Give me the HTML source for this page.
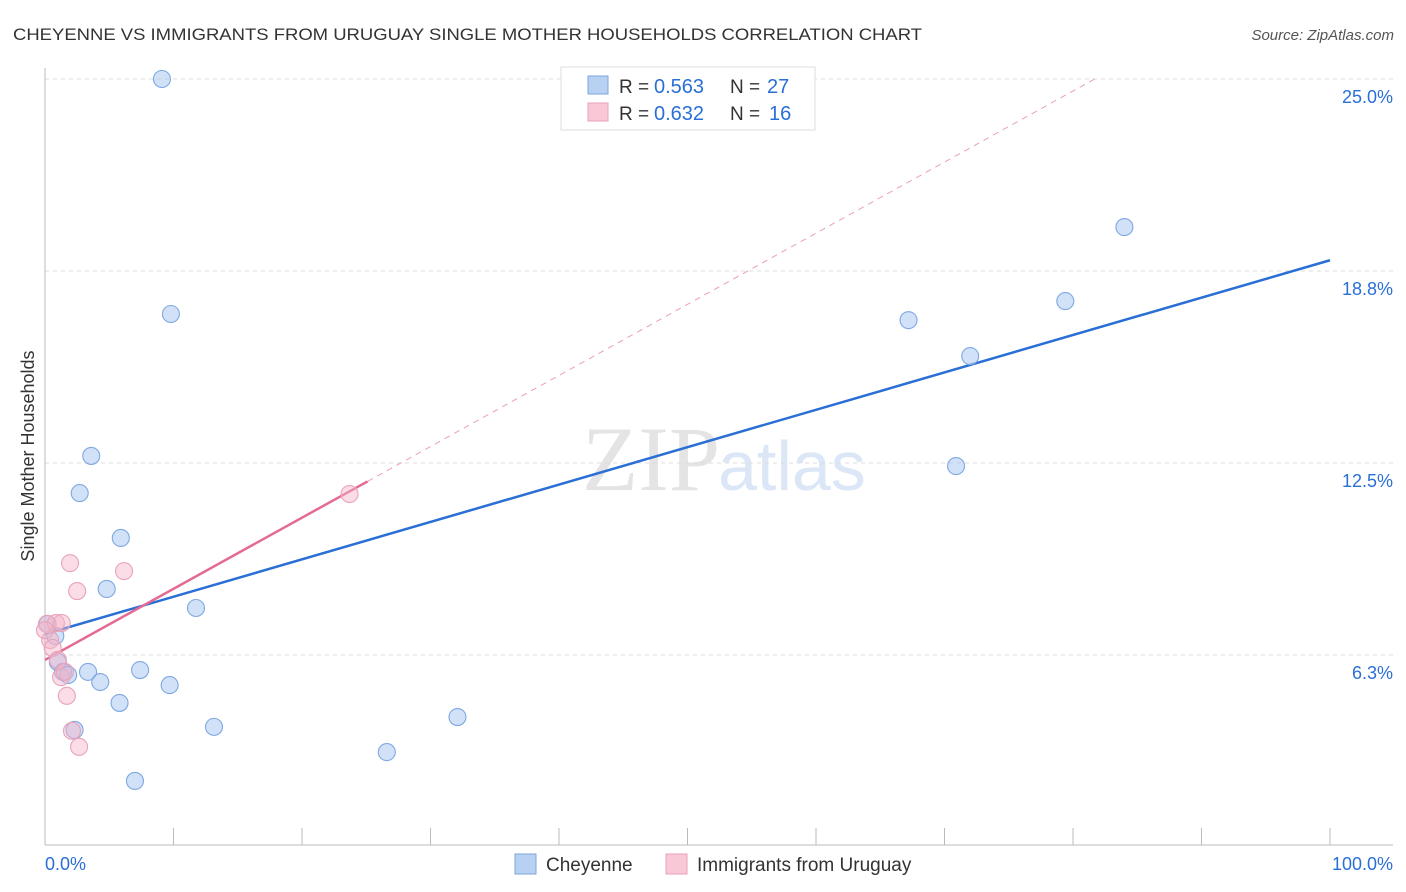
<!DOCTYPE html>
<html><head><meta charset="utf-8"><style>
body{margin:0;background:#fff;font-family:"Liberation Sans",sans-serif}
#c{position:relative;width:1406px;height:892px;overflow:hidden}
</style></head><body>
<div id="c">
<svg width="1406" height="892" xmlns="http://www.w3.org/2000/svg" id="svg">
<text x="13" y="40" font-size="17" fill="#333" textLength="909" lengthAdjust="spacingAndGlyphs">CHEYENNE VS IMMIGRANTS FROM URUGUAY SINGLE MOTHER HOUSEHOLDS CORRELATION CHART</text>
<text x="1394" y="40" font-size="15" fill="#555" font-style="italic" text-anchor="end">Source: ZipAtlas.com</text>
<text x="34" y="456" font-size="18" fill="#333" text-anchor="middle" transform="rotate(-90 34 456)">Single Mother Households</text>
<text x="720" y="490" font-size="92" fill="#e4e4e4" text-anchor="end" font-family="Liberation Serif">ZIP</text>
<text x="718" y="490" font-size="70" fill="#dbe6f6">atlas</text>
<g id="grid"></g><g id="axes"></g><g id="lines"></g><g id="pts"></g>
<g>
<rect x="561" y="67" width="254" height="63" fill="#fff" stroke="#ddd"/>
<rect x="588" y="76" width="20" height="18" fill="#b8d0f2" stroke="#7ea6e0"/>
<rect x="588" y="103" width="20" height="18" fill="#f9c8d6" stroke="#eaa0b8"/>
<text x="619" y="93" font-size="19" fill="#333">R =</text>
<text x="654" y="93" font-size="20" fill="#2a6fd6">0.563</text>
<text x="730" y="93" font-size="19" fill="#333">N =</text>
<text x="767" y="93" font-size="20" fill="#2a6fd6">27</text>
<text x="619" y="120" font-size="19" fill="#333">R =</text>
<text x="654" y="120" font-size="20" fill="#2a6fd6">0.632</text>
<text x="730" y="120" font-size="19" fill="#333">N =</text>
<text x="769" y="120" font-size="20" fill="#2a6fd6">16</text>
</g>
<g>
<rect x="515" y="854" width="21" height="20" fill="#b8d0f2" stroke="#7ea6e0"/>
<text x="546" y="871" font-size="19" fill="#333">Cheyenne</text>
<rect x="666" y="854" width="21" height="20" fill="#f9c8d6" stroke="#eaa0b8"/>
<text x="697" y="871" font-size="19" fill="#333">Immigrants from Uruguay</text>
</g>
</svg></div>
<script>
const yTicks=[6.25,12.5,18.75,25];
const yTickLabels=["6.3%","12.5%","18.8%","25.0%"];
const xLabels=["0.0%","100.0%"];
const blueX=[9.1,9.8,3.6,2.7,5.9,4.8,11.75,0.2,0.8,1.0,1.4,1.8,3.35,4.3,7.4,9.7,5.8,2.3,13.15,7.0,26.6,32.1,67.2,72.0,79.4,84.0,70.9];
const blueY=[25.0,17.35,12.73,11.52,10.06,8.40,7.78,7.26,6.87,6.02,5.70,5.60,5.70,5.37,5.76,5.27,4.69,3.81,3.91,2.15,3.09,4.23,17.15,15.98,17.77,20.18,12.40];
const pinkX=[23.7,1.95,6.15,2.5,0.15,0.85,1.3,0.4,0.6,1.0,1.25,1.7,2.1,2.65,0,1.55];
const pinkY=[11.49,9.24,8.98,8.33,7.26,7.29,7.29,6.74,6.48,6.09,5.53,4.92,3.78,3.26,7.06,5.70];
const blueLine=[6.93,19.1];
const pinkLine=[6.09,0.2315];
const NS="http://www.w3.org/2000/svg";
const X=v=>45+v*12.85, Y=v=>847-v*30.72;
function mk(p,t,a){const e=document.createElementNS(NS,t);for(const k in a)e.setAttribute(k,a[k]);document.getElementById(p).appendChild(e);return e;}
yTicks.forEach((t,i)=>{
 const g=mk('grid','line',{x1:45,x2:1393,y1:Y(t),y2:Y(t),stroke:'#ddd','stroke-dasharray':'4,4'});
 
 
 const l=mk('grid','text',{x:1393,y:Y(t)+24,'font-size':18,fill:'#2a6fd6','text-anchor':'end'});
 l.textContent=yTickLabels[i];
 
 
});
const ax=mk('axes','line',{x1:45,x2:45,y1:68,y2:845,stroke:'#bbb'});


const bx=mk('axes','line',{x1:45,x2:1393,y1:845,y2:845,stroke:'#bbb'});


for(let k=1;k<=10;k++){const t=mk('axes','line',{x1:X(k*10),x2:X(k*10),y1:828,y2:845,stroke:'#bbb'});
 
 }
[[0,'start',45],[100,'end',1393]].forEach((d,i)=>{const t=mk('axes','text',{x:d[2],y:870,'font-size':18,fill:'#2a6fd6','text-anchor':d[1]});t.textContent=xLabels[i];
 
 });
const bl=mk('lines','line',{x1:X(0),y1:Y(blueLine[0]),x2:X(100),y2:Y(blueLine[1]),stroke:'#2a6fd6','stroke-width':2.5});


const xe=(25-pinkLine[0])/pinkLine[1];
const pd=mk('lines','line',{x1:X(25.1),y1:Y(pinkLine[0]+pinkLine[1]*25.1),x2:X(xe),y2:Y(25),stroke:'#e8a0b6','stroke-width':1,'stroke-dasharray':'6,5'});


const pl=mk('lines','line',{x1:X(0),y1:Y(pinkLine[0]),x2:X(25.1),y2:Y(pinkLine[0]+pinkLine[1]*25.1),stroke:'#e46a94','stroke-width':2.5});


blueX.forEach((x,i)=>{const c=mk('pts','circle',{cx:X(x),cy:Y(blueY[i]),r:8.5,fill:'rgba(164,196,240,0.5)',stroke:'#7fa8e2','stroke-width':1.1});
 
 });
pinkX.forEach((x,i)=>{const c=mk('pts','circle',{cx:X(x),cy:Y(pinkY[i]),r:8.5,fill:'rgba(245,180,200,0.45)',stroke:'#eaa2b8','stroke-width':1.1});
 
 });
</script>
</body></html>
